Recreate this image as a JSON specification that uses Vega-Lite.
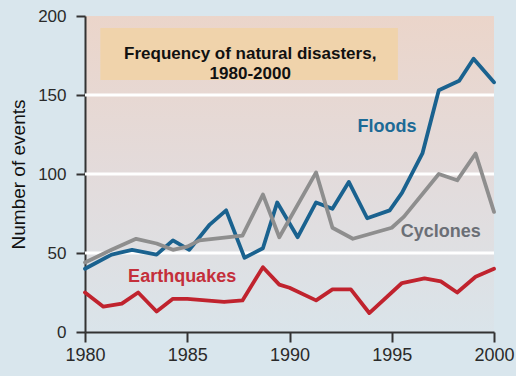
{
  "$schema": "https://vega.github.io/schema/vega-lite/v6.json",
  "width": 409,
  "height": 316,
  "autosize": {"type": "none"},
  "padding": {"left": 85, "top": 16, "right": 22, "bottom": 44},
  "background": "#d9e6ed",
  "config": {
    "font": "Liberation Sans",
    "view": {
      "stroke": null,
      "fill": {
        "gradient": "linear",
        "x1": 0, "y1": 0, "x2": 0, "y2": 1,
        "stops": [
          {"offset": 0, "color": "#ebd5ca"},
          {"offset": 0.5, "color": "#e3dbdb"},
          {"offset": 1, "color": "#dae4ea"}
        ]
      }
    }
  },
  "datasets": {
    "series": [
      {"year": 1980.0, "events": 40, "type": "Floods"},
      {"year": 1981.3, "events": 49, "type": "Floods"},
      {"year": 1982.3, "events": 52, "type": "Floods"},
      {"year": 1983.5, "events": 49, "type": "Floods"},
      {"year": 1984.3, "events": 58, "type": "Floods"},
      {"year": 1985.1, "events": 52, "type": "Floods"},
      {"year": 1986.1, "events": 68, "type": "Floods"},
      {"year": 1986.9, "events": 77, "type": "Floods"},
      {"year": 1987.8, "events": 47, "type": "Floods"},
      {"year": 1988.7, "events": 53, "type": "Floods"},
      {"year": 1989.4, "events": 82, "type": "Floods"},
      {"year": 1990.4, "events": 60, "type": "Floods"},
      {"year": 1991.3, "events": 82, "type": "Floods"},
      {"year": 1992.1, "events": 78, "type": "Floods"},
      {"year": 1992.9, "events": 95, "type": "Floods"},
      {"year": 1993.8, "events": 72, "type": "Floods"},
      {"year": 1994.9, "events": 77, "type": "Floods"},
      {"year": 1995.5, "events": 88, "type": "Floods"},
      {"year": 1996.5, "events": 113, "type": "Floods"},
      {"year": 1997.3, "events": 153, "type": "Floods"},
      {"year": 1998.3, "events": 159, "type": "Floods"},
      {"year": 1999.0, "events": 173, "type": "Floods"},
      {"year": 2000.0, "events": 158, "type": "Floods"},
      {"year": 1980.0, "events": 44, "type": "Cyclones"},
      {"year": 1981.3, "events": 52, "type": "Cyclones"},
      {"year": 1982.5, "events": 59, "type": "Cyclones"},
      {"year": 1983.5, "events": 56, "type": "Cyclones"},
      {"year": 1984.3, "events": 52, "type": "Cyclones"},
      {"year": 1985.0, "events": 54, "type": "Cyclones"},
      {"year": 1985.6, "events": 58, "type": "Cyclones"},
      {"year": 1987.7, "events": 61, "type": "Cyclones"},
      {"year": 1988.7, "events": 87, "type": "Cyclones"},
      {"year": 1989.5, "events": 60, "type": "Cyclones"},
      {"year": 1991.3, "events": 101, "type": "Cyclones"},
      {"year": 1992.1, "events": 66, "type": "Cyclones"},
      {"year": 1993.1, "events": 59, "type": "Cyclones"},
      {"year": 1995.0, "events": 66, "type": "Cyclones"},
      {"year": 1995.6, "events": 73, "type": "Cyclones"},
      {"year": 1997.3, "events": 100, "type": "Cyclones"},
      {"year": 1998.2, "events": 96, "type": "Cyclones"},
      {"year": 1999.1, "events": 113, "type": "Cyclones"},
      {"year": 2000.0, "events": 76, "type": "Cyclones"},
      {"year": 1980.0, "events": 25, "type": "Earthquakes"},
      {"year": 1980.9, "events": 16, "type": "Earthquakes"},
      {"year": 1981.8, "events": 18, "type": "Earthquakes"},
      {"year": 1982.6, "events": 25, "type": "Earthquakes"},
      {"year": 1983.5, "events": 13, "type": "Earthquakes"},
      {"year": 1984.3, "events": 21, "type": "Earthquakes"},
      {"year": 1985.0, "events": 21, "type": "Earthquakes"},
      {"year": 1986.8, "events": 19, "type": "Earthquakes"},
      {"year": 1987.7, "events": 20, "type": "Earthquakes"},
      {"year": 1988.7, "events": 41, "type": "Earthquakes"},
      {"year": 1989.5, "events": 30, "type": "Earthquakes"},
      {"year": 1990.0, "events": 28, "type": "Earthquakes"},
      {"year": 1991.3, "events": 20, "type": "Earthquakes"},
      {"year": 1992.1, "events": 27, "type": "Earthquakes"},
      {"year": 1993.0, "events": 27, "type": "Earthquakes"},
      {"year": 1993.9, "events": 12, "type": "Earthquakes"},
      {"year": 1995.5, "events": 31, "type": "Earthquakes"},
      {"year": 1996.6, "events": 34, "type": "Earthquakes"},
      {"year": 1997.4, "events": 32, "type": "Earthquakes"},
      {"year": 1998.2, "events": 25, "type": "Earthquakes"},
      {"year": 1999.1, "events": 35, "type": "Earthquakes"},
      {"year": 2000.0, "events": 40, "type": "Earthquakes"}
    ],
    "labels": [
      {"year": 1994.77, "events": 130, "type": "Floods"},
      {"year": 1997.4, "events": 63, "type": "Cyclones"},
      {"year": 1984.75, "events": 35, "type": "Earthquakes"}
    ],
    "grid": [{"events": 50}, {"events": 100}, {"events": 150}],
    "titlebox": [
      {"x1": 1980.75, "x2": 1995.3, "y1": 159.5, "y2": 192.4, "year": 1988.08, "events": 176, "text": "Frequency of natural disasters,|1980-2000"}
    ]
  },
  "layer": [
    {
      "data": {"name": "grid"},
      "mark": {"type": "rule", "color": "#ffffff", "strokeWidth": 3},
      "encoding": {
        "y": {"field": "events", "type": "quantitative", "scale": {"domain": [0, 200]}}
      }
    },
    {
      "data": {"name": "titlebox"},
      "mark": {"type": "rect", "color": "#f0d3ab"},
      "encoding": {
        "x": {"field": "x1", "type": "quantitative"},
        "x2": {"field": "x2"},
        "y": {"field": "y1", "type": "quantitative"},
        "y2": {"field": "y2"}
      }
    },
    {
      "data": {"name": "titlebox"},
      "mark": {"type": "text", "font": "Liberation Sans", "fontSize": 17, "fontWeight": "bold", "color": "#111111", "lineBreak": "|", "lineHeight": 20, "align": "center", "baseline": "middle"},
      "encoding": {
        "x": {"field": "year", "type": "quantitative"},
        "y": {"field": "events", "type": "quantitative"},
        "text": {"field": "text"}
      }
    },
    {
      "data": {"name": "series"},
      "mark": {"type": "line", "strokeWidth": 3.8, "strokeJoin": "round", "strokeCap": "round"},
      "encoding": {
        "x": {
          "field": "year", "type": "quantitative",
          "scale": {"domain": [1980, 2000], "nice": false, "zero": false},
          "axis": {
            "values": [1980, 1985, 1990, 1995, 2000], "format": "d", "title": null, "grid": false,
            "domainColor": "#333333", "domainWidth": 2, "tickColor": "#333333", "tickWidth": 2, "tickSize": 10,
            "labelFontSize": 18, "labelColor": "#2a2a2a", "labelPadding": 4, "labelFlush": false, "labelOverlap": false
          }
        },
        "y": {
          "field": "events", "type": "quantitative",
          "scale": {"domain": [0, 200], "nice": false},
          "axis": {
            "values": [0, 50, 100, 150, 200], "title": "Number of events", "grid": false,
            "domainColor": "#333333", "domainWidth": 2, "tickColor": "#333333", "tickWidth": 2, "tickSize": 9,
            "labelFontSize": 17, "labelColor": "#2a2a2a", "labelPadding": 10,
            "titleFontSize": 19, "titleFontWeight": 500, "titleColor": "#111111", "titlePadding": 9
          }
        },
        "color": {
          "field": "type", "type": "nominal",
          "scale": {"domain": ["Floods", "Cyclones", "Earthquakes"], "range": ["#1a628f", "#8e8e8e", "#c0232e"]},
          "legend": null
        },
        "detail": {"field": "type"}
      }
    },
    {
      "data": {"name": "labels"},
      "mark": {"type": "text", "fontSize": 18, "fontWeight": "bold", "align": "center", "baseline": "middle"},
      "encoding": {
        "x": {"field": "year", "type": "quantitative"},
        "y": {"field": "events", "type": "quantitative"},
        "text": {"field": "type"},
        "color": {
          "field": "type", "type": "nominal",
          "scale": {"domain": ["Floods", "Cyclones", "Earthquakes"], "range": ["#1c6a96", "#6b6f76", "#c42f3a"]},
          "legend": null
        }
      }
    }
  ],
  "resolve": {"scale": {"color": "independent"}}
}
